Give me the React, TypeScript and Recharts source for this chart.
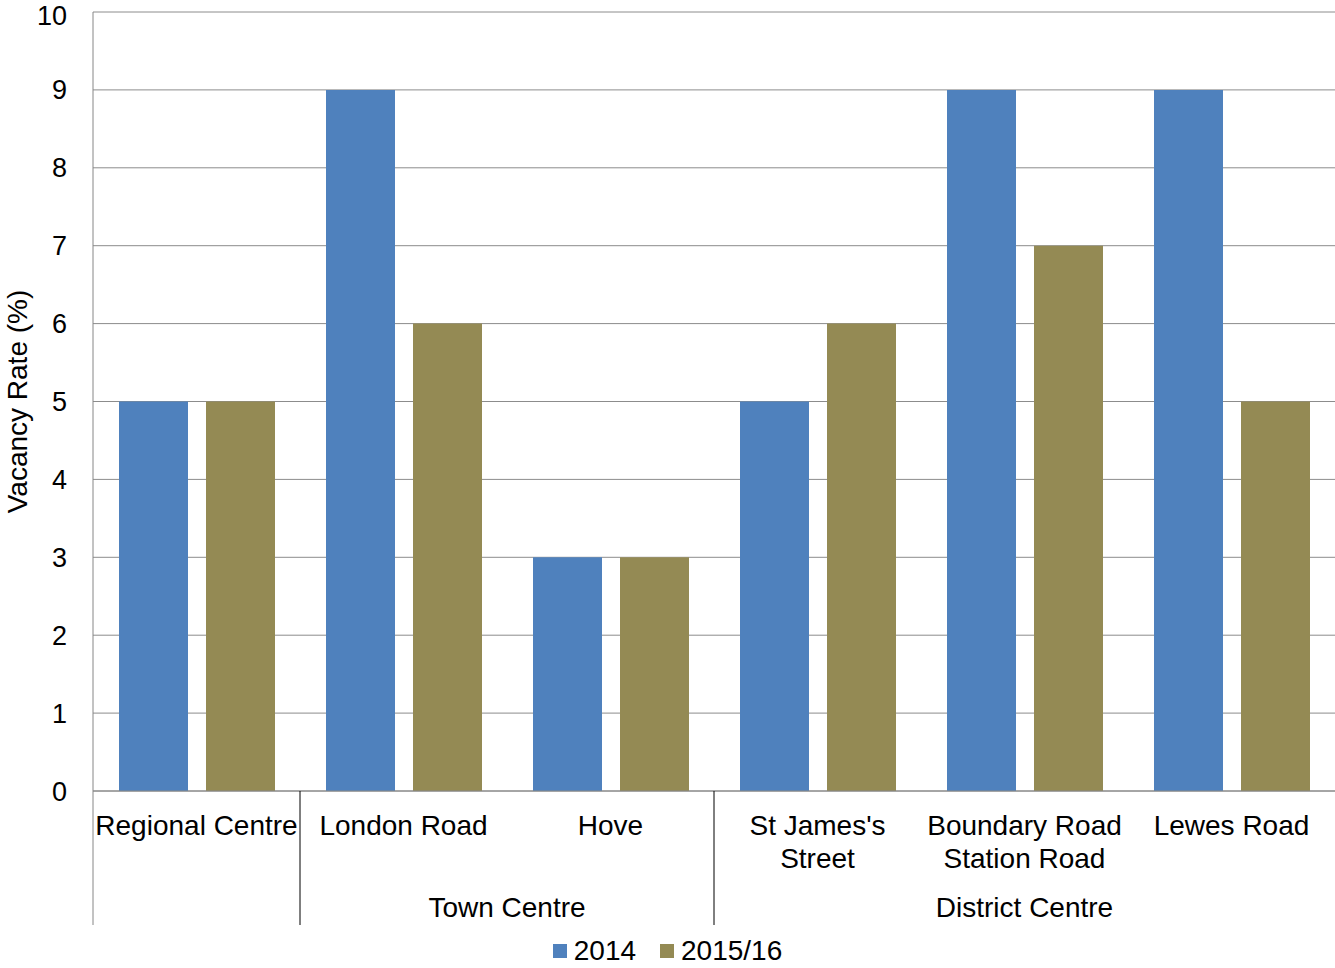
import { Bar, BarChart, CartesianGrid, Legend, XAxis, YAxis } from "recharts"

const categories = [
  "Regional Centre",
  "London Road",
  "Hove",
  "St James's Street",
  "Boundary Road Station Road",
  "Lewes Road",
]
const labelLines = [
  ["Regional Centre"],
  ["London Road"],
  ["Hove"],
  ["St James's", "Street"],
  ["Boundary Road", "Station Road"],
  ["Lewes Road"],
]
const values2014 = [5, 9, 3, 5, 9, 9]
const values2015 = [5, 6, 3, 6, 7, 5]
const groupNames = ["", "Town Centre", "District Centre"]
const groupStarts = [0, 1, 3]
const groupSizes = [1, 2, 3]
const yTicks = [0, 1, 2, 3, 4, 5, 6, 7, 8, 9, 10]

const seriesNames = ["2014", "2015/16"]
const BLUE = "#4F81BD"
const OLIVE = "#948A54"

const data = categories.map((name, i) => ({
  name,
  y2014: values2014[i],
  y2015: values2015[i],
}))

const W = 1335
const H = 968
const Y_AXIS_W = 93
const BAND = (W - Y_AXIS_W) / categories.length
const FONT = 28

function CategoryTick(props: any) {
  const { x, y, payload } = props
  const i = categories.indexOf(payload.value)
  const lines = labelLines[i] || []
  const g = groupStarts.indexOf(i)
  return (
    <g>
      {lines.map((l, k) => (
        <text
          key={k}
          x={x}
          y={y + 44 + k * 33}
          textAnchor="middle"
          fontSize={FONT}
          fill="#000"
        >
          {l}
        </text>
      ))}
      {g >= 0 && (
        <line
          x1={x - BAND / 2}
          x2={x - BAND / 2}
          y1={y}
          y2={y + 134}
          stroke={g === 0 ? "#868686" : "#000"}
          strokeWidth={1}
        />
      )}
      {g >= 0 && groupNames[g] && (
        <text
          x={x - BAND / 2 + (groupSizes[g] * BAND) / 2}
          y={y + 126}
          textAnchor="middle"
          fontSize={FONT}
          fill="#000"
        >
          {groupNames[g]}
        </text>
      )}
    </g>
  )
}

function LegendContent() {
  const colors = [BLUE, OLIVE]
  return (
    <div
      style={{
        display: "flex",
        justifyContent: "center",
        alignItems: "center",
        paddingTop: 11,
        fontSize: FONT,
        lineHeight: "30px",
      }}
    >
      {seriesNames.map((s, i) => (
        <div
          key={s}
          style={{ display: "flex", alignItems: "center", marginRight: i === 0 ? 24 : 0 }}
        >
          <span
            style={{
              display: "inline-block",
              width: 14,
              height: 14,
              background: colors[i],
              marginRight: 7,
            }}
          />
          <span>{s}</span>
        </div>
      ))}
    </div>
  )
}

export default function App() {
  return (
    <div
      style={{
        position: "absolute",
        top: 0,
        left: 0,
        fontFamily: "'Liberation Sans', Arial, sans-serif",
        background: "#fff",
      }}
    >
      <BarChart
        width={W}
        height={H}
        data={data}
        margin={{ top: 12, right: 0, left: 0, bottom: 0 }}
        barSize={69}
        barGap={18}
      >
        <CartesianGrid vertical={false} stroke="#8c8c8c" />
        <XAxis
          dataKey="name"
          interval={0}
          height={134}
          tickLine={false}
          tickSize={0}
          tickMargin={0}
          stroke="#868686"
          tick={<CategoryTick />}
        />
        <YAxis
          width={Y_AXIS_W}
          domain={[0, 10]}
          ticks={yTicks}
          tickLine={false}
          tickMargin={20}
          stroke="#868686"
          tick={{ fill: "#000", fontSize: FONT - 1 }}
          label={{
            value: "Vacancy Rate (%)",
            angle: -90,
            position: "insideLeft",
            dx: 12,
            dy: 0,
            style: { textAnchor: "middle", fill: "#000", fontSize: FONT },
          }}
        />
        <Legend verticalAlign="bottom" height={43} content={<LegendContent />} />
        <Bar dataKey="y2014" name="2014" fill={BLUE} isAnimationActive={false} />
        <Bar dataKey="y2015" name="2015/16" fill={OLIVE} isAnimationActive={false} />
      </BarChart>
    </div>
  )
}
